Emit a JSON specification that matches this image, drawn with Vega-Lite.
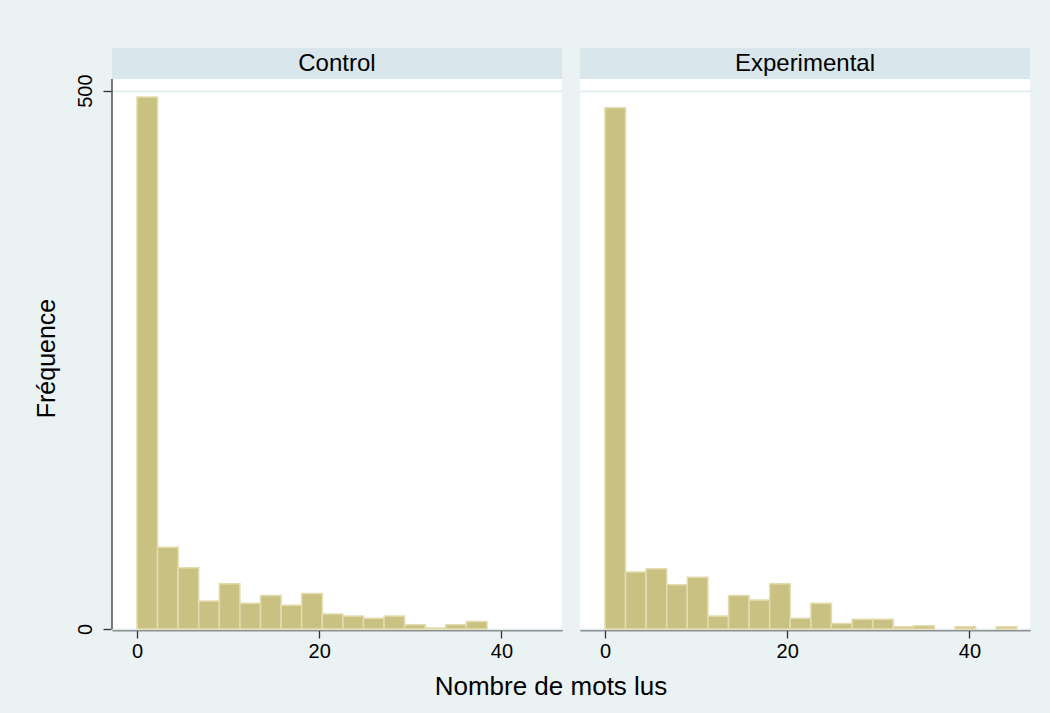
{
  "$schema": "https://vega.github.io/schema/vega-lite/v6.json",
  "background": "#eaf2f3",
  "padding": {"left": 34, "top": 48, "right": 20, "bottom": 14},
  "title": {"text": "Nombre de mots lus", "orient": "bottom", "anchor": "middle", "frame": "bounds", "dx": 19, "offset": 13, "font": "Liberation Sans", "fontSize": 26, "fontWeight": "normal", "color": "black"},
  "data": {"values": [
    {"group": "Control", "bin_start": 0, "bin_end": 2.26, "count": 494},
    {"group": "Control", "bin_start": 2.26, "bin_end": 4.52, "count": 76},
    {"group": "Control", "bin_start": 4.52, "bin_end": 6.78, "count": 57},
    {"group": "Control", "bin_start": 6.78, "bin_end": 9.04, "count": 26},
    {"group": "Control", "bin_start": 9.04, "bin_end": 11.3, "count": 42},
    {"group": "Control", "bin_start": 11.3, "bin_end": 13.56, "count": 24},
    {"group": "Control", "bin_start": 13.56, "bin_end": 15.82, "count": 31},
    {"group": "Control", "bin_start": 15.82, "bin_end": 18.08, "count": 22},
    {"group": "Control", "bin_start": 18.08, "bin_end": 20.34, "count": 33},
    {"group": "Control", "bin_start": 20.34, "bin_end": 22.6, "count": 14},
    {"group": "Control", "bin_start": 22.6, "bin_end": 24.86, "count": 12},
    {"group": "Control", "bin_start": 24.86, "bin_end": 27.12, "count": 10},
    {"group": "Control", "bin_start": 27.12, "bin_end": 29.38, "count": 12},
    {"group": "Control", "bin_start": 29.38, "bin_end": 31.64, "count": 4},
    {"group": "Control", "bin_start": 31.64, "bin_end": 33.9, "count": 1},
    {"group": "Control", "bin_start": 33.9, "bin_end": 36.16, "count": 4},
    {"group": "Control", "bin_start": 36.16, "bin_end": 38.42, "count": 7},
    {"group": "Experimental", "bin_start": 0, "bin_end": 2.26, "count": 484},
    {"group": "Experimental", "bin_start": 2.26, "bin_end": 4.52, "count": 53},
    {"group": "Experimental", "bin_start": 4.52, "bin_end": 6.78, "count": 56},
    {"group": "Experimental", "bin_start": 6.78, "bin_end": 9.04, "count": 41},
    {"group": "Experimental", "bin_start": 9.04, "bin_end": 11.3, "count": 48},
    {"group": "Experimental", "bin_start": 11.3, "bin_end": 13.56, "count": 12},
    {"group": "Experimental", "bin_start": 13.56, "bin_end": 15.82, "count": 31},
    {"group": "Experimental", "bin_start": 15.82, "bin_end": 18.08, "count": 27},
    {"group": "Experimental", "bin_start": 18.08, "bin_end": 20.34, "count": 42},
    {"group": "Experimental", "bin_start": 20.34, "bin_end": 22.6, "count": 10},
    {"group": "Experimental", "bin_start": 22.6, "bin_end": 24.86, "count": 24},
    {"group": "Experimental", "bin_start": 24.86, "bin_end": 27.12, "count": 5},
    {"group": "Experimental", "bin_start": 27.12, "bin_end": 29.38, "count": 9},
    {"group": "Experimental", "bin_start": 29.38, "bin_end": 31.64, "count": 9},
    {"group": "Experimental", "bin_start": 31.64, "bin_end": 33.9, "count": 2},
    {"group": "Experimental", "bin_start": 33.9, "bin_end": 36.16, "count": 3},
    {"group": "Experimental", "bin_start": 38.42, "bin_end": 40.68, "count": 2},
    {"group": "Experimental", "bin_start": 42.94, "bin_end": 45.2, "count": 2}
  ]},
  "facet": {"column": {"field": "group", "type": "nominal", "sort": ["Control", "Experimental"], "header": {"title": null, "labels": false}}},
  "spacing": 18,
  "spec": {
    "width": 450,
    "height": 581,
    "view": {"fill": "white", "stroke": null},
    "layer": [
      {
        "mark": {"type": "bar", "fill": "#c9c182", "stroke": "#e3dcae", "strokeWidth": 1.5},
        "encoding": {
          "x": {"field": "bin_start", "type": "quantitative", "title": null,
                "scale": {"domain": [-2.74, 46.65], "nice": false, "zero": false},
                "axis": {"values": [0, 20, 40], "grid": false, "tickSize": 8, "labelPadding": 3, "labelFontSize": 20, "domainWidth": 1.5}},
          "x2": {"field": "bin_end"},
          "y": {"field": "count", "type": "quantitative", "title": "Fréquence",
                "scale": {"domain": [0, 539.6], "nice": false},
                "axis": {"values": [0, 500], "domain": false, "grid": true, "gridColor": "#e4edf0", "gridWidth": 2, "tickSize": 8, "labelAngle": -90, "labelAlign": "center", "labelBaseline": "bottom", "labelPadding": 8, "labelFontSize": 20, "titleFontSize": 25, "titlePadding": 16, "titleY": 310}},
          "y2": {"datum": 0}
        }
      },
      {
        "transform": [{"filter": "datum.bin_start == 0"}],
        "mark": {"type": "rect", "fill": "#d9e6eb"},
        "encoding": {
          "x": {"datum": -2.74, "type": "quantitative"},
          "x2": {"datum": 46.65},
          "y": {"datum": 510.9, "type": "quantitative"},
          "y2": {"datum": 539.6}
        }
      },
      {
        "transform": [{"filter": "datum.bin_start == 0"}],
        "mark": {"type": "text", "font": "Liberation Sans", "fontSize": 24, "color": "black", "baseline": "middle", "align": "center"},
        "encoding": {
          "x": {"datum": 21.95, "type": "quantitative"},
          "y": {"datum": 525.2, "type": "quantitative"},
          "text": {"field": "group"}
        }
      },
      {
        "transform": [{"filter": "datum.group == 'Control' && datum.bin_start == 0"}],
        "mark": {"type": "rule", "color": "#333333", "strokeWidth": 1.3},
        "encoding": {
          "x": {"datum": -2.74, "type": "quantitative"},
          "y": {"datum": 0, "type": "quantitative"},
          "y2": {"datum": 510.9}
        }
      }
    ]
  },
  "config": {
    "font": "Liberation Sans",
    "view": {"stroke": null},
    "axis": {"labelFont": "Liberation Sans", "titleFont": "Liberation Sans", "labelColor": "black", "titleColor": "black", "titleFontWeight": "normal", "domainColor": "#333333", "tickColor": "#333333", "tickWidth": 1.3}
  }
}
